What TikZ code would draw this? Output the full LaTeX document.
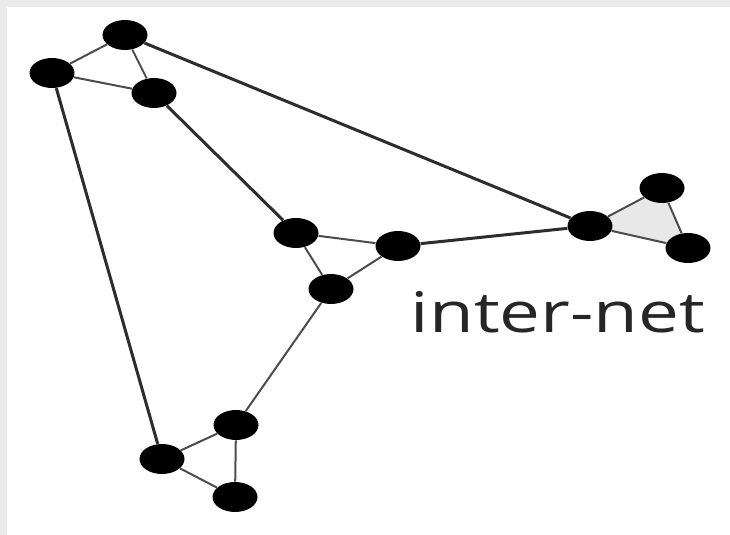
\documentclass[tikz,border=0pt]{standalone}
\usepackage{fontspec}
\setmainfont{Open Sans}
\usepackage{xcolor}
\usepackage{tikz}
\usetikzlibrary{shapes.geometric}
\definecolor{framegray}{RGB}{235,235,235}
\definecolor{linkcolor}{RGB}{45,45,45}
\definecolor{cellfill}{RGB}{232,232,232}

\begin{document}
\begin{tikzpicture}[
    x=0.5pt, y=-0.5pt,
    router/.style={ellipse, fill=black, inner sep=0pt, minimum width=22.5pt, minimum height=15pt},
    trunk/.style={draw=linkcolor, line width=1.5pt},
    link/.style={draw=linkcolor!85, line width=1pt}
]
    % frame
    \fill[framegray] (0,0) rectangle (730,535);
    \fill[white] (7,7) rectangle (730,535);
    \useasboundingbox (0,0) rectangle (730,535);

    % right cell fill
    \fill[cellfill] (590,226) -- (662,188) -- (688,248) -- cycle;

    % top cluster
    \node[router] (ta) at (125,35) {};
    \node[router] (tb) at (52,73) {};
    \node[router] (tc) at (154,93) {};
    % middle cluster
    \node[router] (ma) at (296,233) {};
    \node[router] (mb) at (398,246) {};
    \node[router] (mc) at (331,289) {};
    % right cluster
    \node[router] (ra) at (590,226) {};
    \node[router] (rb) at (662,188) {};
    \node[router] (rc) at (688,248) {};
    % bottom cluster
    \node[router] (ba) at (236,425) {};
    \node[router] (bb) at (162,459) {};
    \node[router] (bc) at (235,497) {};

    \node[font=\fontsize{28}{30}\selectfont, text=black!85, anchor=base] (label) at (558,333) {\scalebox{1.3}[1]{inter-net}};

    % trunks
    \draw[trunk] (ta) -- (ra);
    \draw[trunk] (tb) -- (bb);
    \draw[trunk] (tc) -- (ma);
    \draw[trunk] (mb) -- (ra);
    \draw[link] (mc) -- (ba);

    % local links
    \draw[link] (ta) -- (tb);
    \draw[link] (ta) -- (tc);
    \draw[link] (tb) -- (tc);
    \draw[link] (ma) -- (mb);
    \draw[link] (ma) -- (mc);
    \draw[link] (mb) -- (mc);
    \draw[link] (ra) -- (rb);
    \draw[link] (ra) -- (rc);
    \draw[link] (rb) -- (rc);
    \draw[link] (ba) -- (bb);
    \draw[link] (ba) -- (bc);
    \draw[link] (bb) -- (bc);
\end{tikzpicture}
\end{document}
